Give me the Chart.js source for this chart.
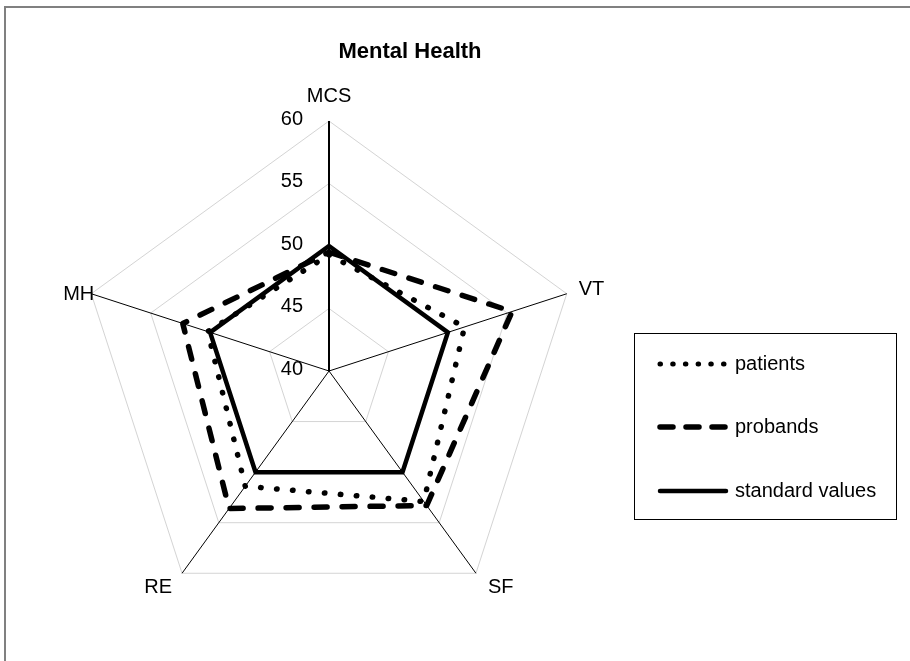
<!DOCTYPE html>
<html><head><meta charset="utf-8">
<script src="https://cdn.jsdelivr.net/npm/chart.js@4.4.0/dist/chart.umd.min.js"></script>
<style>html,body{margin:0;padding:0;background:#fff;overflow:hidden}
#wrap{position:relative;width:910px;height:661px}</style></head>
<body><div id="wrap"><canvas id="c" width="910" height="661"></canvas></div>
<script>
const categories = ['MCS', 'VT', 'SF', 'RE', 'MH'];
const patients = [49.3, 51.4, 52.9, 51.4, 50.2];
const probands = [49.5, 55.4, 53.3, 53.6, 52.3];
const standardValues = [50, 50, 50, 50, 50];
const tickValues = [40, 45, 50, 55, 60];
const seriesNames = ['patients', 'probands', 'standard values'];
const chartTitle = 'Mental Health';

const FONT = '"Liberation Sans", Arial, sans-serif';
const styles = [
  {borderDash: [0.5, 15.5], borderWidth: 5.5, borderCapStyle: 'round', borderJoinStyle: 'round', legendDash: [0.5, 12.2]},
  {borderDash: [13, 15], borderWidth: 5.5, borderCapStyle: 'round', borderJoinStyle: 'round', legendDash: [13, 13]},
  {borderDash: [], borderWidth: 4.5, borderCapStyle: 'butt', borderJoinStyle: 'miter', legendDash: []}
];
const seriesData = [patients, probands, standardValues];

const extras = {
  id: 'extras',
  beforeDraw(chart) {
    const ctx = chart.ctx;
    ctx.save();
    ctx.fillStyle = '#fff';
    ctx.fillRect(0, 0, chart.width, chart.height);
    ctx.strokeStyle = '#808080';
    ctx.lineWidth = 2;
    ctx.strokeRect(5, 7, 1000, 1000);
    ctx.restore();
  },
  afterDraw(chart) {
    const ctx = chart.ctx;
    const s = chart.scales.r;
    ctx.save();
    // title
    ctx.fillStyle = '#000';
    ctx.font = 'bold 22px ' + FONT;
    ctx.textAlign = 'center';
    ctx.textBaseline = 'alphabetic';
    ctx.fillText(chartTitle, 410, 58);
    // tick labels
    ctx.font = '20px ' + FONT;
    ctx.textAlign = 'right';
    ctx.textBaseline = 'middle';
    tickValues.forEach(v => {
      const p = s.getPointPositionForValue(0, v);
      ctx.fillText(String(v), p.x - 26, p.y - 2);
    });
    // point labels
    const lay = [
      {dx: 0, dy: -19, align: 'center'},
      {dx: 12, dy: 1, align: 'left'},
      {dx: 12, dy: 20, align: 'left'},
      {dx: -10, dy: 20, align: 'right'},
      {dx: 3, dy: 6, align: 'right'}
    ];
    ctx.textBaseline = 'alphabetic';
    categories.forEach((c, i) => {
      const p = s.getPointPosition(i, s.drawingArea);
      ctx.textAlign = lay[i].align;
      ctx.fillText(c, p.x + lay[i].dx, p.y + lay[i].dy);
    });
    // legend
    ctx.strokeStyle = '#000';
    ctx.lineWidth = 1;
    ctx.strokeRect(634.5, 333.5, 262, 186);
    const ys = [364, 427, 491];
    seriesNames.forEach((n, i) => {
      const st = styles[i];
      ctx.beginPath();
      ctx.setLineDash(st.legendDash);
      ctx.lineCap = 'round';
      ctx.lineWidth = i === 0 ? 5 : st.borderWidth;
      ctx.moveTo(660, ys[i]);
      ctx.lineTo(726, ys[i]);
      ctx.stroke();
      ctx.setLineDash([]);
      ctx.fillStyle = '#000';
      ctx.textAlign = 'left';
      ctx.textBaseline = 'middle';
      ctx.fillText(n, 735, ys[i]);
    });
    ctx.restore();
  }
};

new Chart(document.getElementById('c'), {
  type: 'radar',
  data: {
    labels: categories,
    datasets: seriesNames.map((n, i) => ({
      label: n,
      data: seriesData[i],
      borderColor: '#000',
      backgroundColor: 'transparent',
      fill: false,
      borderWidth: styles[i].borderWidth,
      borderDash: styles[i].borderDash,
      borderCapStyle: styles[i].borderCapStyle,
      borderJoinStyle: styles[i].borderJoinStyle,
      pointRadius: 0,
      pointHoverRadius: 0,
      tension: 0
    }))
  },
  options: {
    responsive: false,
    animation: false,
    devicePixelRatio: 1,
    layout: {padding: {left: 79, top: 121, right: 331, bottom: 40}},
    plugins: {legend: {display: false}, title: {display: false}, tooltip: {enabled: false}},
    scales: {
      r: {
        min: 40, max: 60,
        ticks: {display: false, stepSize: 5},
        grid: {color: '#d4d4d4', lineWidth: 1},
        angleLines: {color: '#000', lineWidth: (c) => c.index === 0 ? 2 : 1},
        pointLabels: {display: false}
      }
    }
  },
  plugins: [extras]
});
</script>
</body></html>
